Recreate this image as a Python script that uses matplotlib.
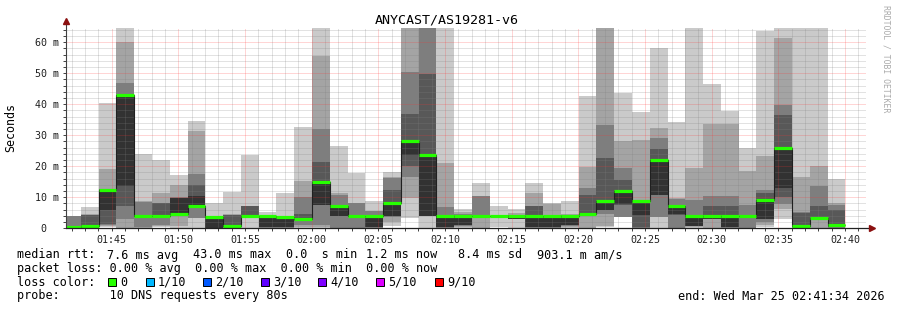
import matplotlib.pyplot as plt
import numpy as np
import pandas as pd
from matplotlib.patches import Rectangle

plt.rcParams['font.family'] = ['DejaVu Sans Mono']

# graph window / sampling
graph_start = "01:41:34"
first_sample = "01:41:21"
step_s = 80

# 10 sorted pings per 80 s slot, in ms (smokeping smoke)
smoke_ms = [
    [0.1, 0.2, 0.3, 0.4, 0.5, 0.6, 0.7, 3.9, 3.95, 4.0],
    [0.2, 0.3, 0.5, 0.6, 0.7, 0.85, 4.2, 4.3, 4.6, 6.9],
    [0.3, 0.8, 1.2, 1.5, 6.0, 12.5, 12.6, 12.7, 19.2, 40.4],
    [0.1, 0.2, 3.0, 7.3, 13.7, 43.0, 43.0, 46.9, 60.2, 70.0],
    [0.1, 0.2, 0.3, 3.8, 4.0, 4.0, 4.1, 8.6, 8.8, 24.0],
    [0.3, 0.7, 1.0, 3.9, 4.0, 4.1, 8.1, 8.2, 11.5, 22.0],
    [0.1, 0.6, 4.5, 4.55, 4.6, 9.8, 9.9, 10.0, 14.0, 17.2],
    [0.1, 3.2, 3.3, 7.0, 7.2, 10.5, 14.0, 17.4, 31.4, 34.5],
    [0.0, 0.0, 0.0, 0.0, 0.05, 3.4, 3.5, 3.55, 3.6, 8.3],
    [0.0, 0.1, 0.2, 0.3, 0.5, 0.8, 4.4, 4.45, 4.5, 11.8],
    [0.1, 3.9, 3.95, 3.97, 3.98, 4.0, 7.2, 7.25, 7.3, 23.8],
    [0.0, 0.1, 0.2, 0.3, 0.4, 3.9, 4.0, 4.1, 4.3, 5.2],
    [0.0, 0.1, 0.2, 0.3, 0.4, 3.5, 3.6, 3.65, 3.7, 11.5],
    [0.0, 0.3, 1.0, 2.5, 2.9, 3.0, 4.7, 10.0, 15.3, 32.6],
    [0.0, 0.5, 1.0, 7.5, 7.6, 14.7, 21.4, 32.0, 55.6, 70.0],
    [0.0, 0.1, 0.2, 4.0, 4.1, 7.2, 7.3, 10.8, 11.5, 26.5],
    [0.0, 0.1, 0.2, 3.8, 3.85, 3.9, 4.0, 8.0, 8.1, 17.9],
    [0.0, 0.1, 0.2, 0.3, 0.5, 4.0, 4.1, 5.5, 5.7, 8.9],
    [0.6, 2.0, 3.6, 4.0, 4.1, 8.2, 12.2, 16.2, 16.5, 18.0],
    [3.2, 9.8, 16.6, 20.1, 23.6, 28.3, 37.0, 50.5, 68.0, 70.0],
    [0.0, 3.9, 3.95, 3.97, 4.0, 23.6, 49.8, 68.0, 69.0, 70.0],
    [0.0, 0.1, 0.2, 0.3, 0.4, 3.9, 4.1, 7.0, 21.0, 70.0],
    [0.0, 0.5, 0.9, 1.0, 1.1, 4.0, 4.2, 4.5, 5.3, 6.3],
    [0.0, 0.1, 3.9, 3.95, 3.97, 4.0, 4.05, 10.3, 10.4, 14.6],
    [0.5, 3.9, 3.92, 3.94, 3.96, 4.0, 4.02, 4.04, 4.06, 7.2],
    [0.0, 2.9, 2.95, 3.0, 3.1, 4.0, 4.2, 4.4, 5.0, 6.1],
    [0.0, 0.1, 0.2, 0.3, 0.4, 4.0, 7.1, 7.2, 11.4, 14.6],
    [0.0, 0.1, 0.2, 0.3, 0.4, 4.0, 4.05, 4.1, 7.7, 8.3],
    [0.0, 0.5, 0.9, 1.0, 1.1, 4.0, 4.2, 4.4, 4.5, 8.8],
    [0.0, 0.1, 4.4, 4.5, 4.6, 5.0, 10.7, 12.9, 19.9, 42.6],
    [0.5, 0.6, 4.5, 5.9, 6.0, 8.8, 22.8, 33.3, 68.0, 70.0],
    [3.6, 3.65, 3.7, 7.6, 7.7, 11.9, 15.5, 19.4, 28.1, 43.6],
    [0.0, 0.1, 0.2, 0.3, 4.4, 8.9, 9.0, 9.1, 28.5, 37.6],
    [0.0, 3.5, 3.6, 10.6, 10.7, 22.0, 25.5, 29.0, 32.5, 58.2],
    [0.0, 0.1, 0.2, 4.4, 4.5, 7.2, 7.3, 9.5, 9.7, 34.4],
    [0.0, 0.5, 0.6, 0.7, 0.8, 4.0, 4.3, 9.0, 19.6, 70.0],
    [0.0, 0.1, 2.9, 3.0, 3.1, 4.0, 7.2, 10.4, 33.6, 46.5],
    [0.0, 0.1, 0.2, 0.3, 0.4, 4.0, 7.2, 10.4, 33.6, 37.9],
    [0.0, 0.1, 0.2, 3.8, 3.9, 4.0, 4.1, 7.5, 18.5, 25.9],
    [0.5, 1.0, 2.0, 2.9, 3.0, 9.0, 11.5, 12.4, 23.3, 63.5],
    [3.0, 6.3, 7.9, 10.0, 12.9, 25.9, 36.5, 39.8, 61.5, 70.0],
    [0.0, 0.1, 0.2, 0.3, 0.4, 0.6, 5.0, 5.1, 16.5, 70.0],
    [0.0, 0.1, 3.2, 3.25, 3.3, 3.35, 7.2, 13.7, 20.1, 70.0],
    [0.0, 0.1, 0.2, 0.3, 0.5, 1.2, 5.9, 7.5, 8.2, 15.9],
]

median_ms = [0.5, 0.85, 12.5, 43.0, 4.0, 4.1, 4.7, 7.3, 3.5, 0.8,
             4.0, 4.0, 3.5, 3.0, 14.8, 7.2, 3.9, 4.0, 8.2, 28.3,
             23.6, 4.0, 4.0, 4.0, 4.0, 4.0, 4.0, 4.0, 4.0, 4.7,
             8.8, 11.9, 8.9, 22.0, 7.2, 4.0, 4.0, 4.0, 4.0, 9.0,
             25.9, 0.6, 3.3, 1.2]

time_labels = ["01:45", "01:50", "01:55", "02:00", "02:05", "02:10",
               "02:15", "02:20", "02:25", "02:30", "02:35", "02:40"]
y_major = [0, 10, 20, 30, 40, 50, 60]
y_top = 64.6

title = "ANYCAST/AS19281-v6"
rtt_parts = ["median rtt:", "7.6 ms avg", "43.0 ms max", "0.0  s min",
             "1.2 ms now", "8.4 ms sd", "903.1 m am/s"]
loss_line = "packet loss: 0.00 % avg  0.00 % max  0.00 % min  0.00 % now"
loss_labels = ["0", "1/10", "2/10", "3/10", "4/10", "5/10", "9/10"]
loss_colors = ["#26ff00", "#00b8ff", "#0059ff", "#5e00ff", "#7e00ff", "#dd00ff", "#ff0000"]
probe_line = "probe:       10 DNS requests every 80s"
end_line = "end: Wed Mar 25 02:41:34 2026"

# ---------------------------------------------------------------
W, H = 897, 310
fig = plt.figure(figsize=(W / 100, H / 100), dpi=100)
fig.patch.set_facecolor('white')


def fx(x):
    return x / W


def fy(y):
    return 1 - y / H


ax = fig.add_axes([fx(66), fy(228.3), 800 / W, 200.3 / H])

t0 = pd.Timestamp("2026-03-25 " + graph_start)


def minutes(t):
    return (pd.Timestamp("2026-03-25 " + t) - t0).total_seconds() / 60


pings = np.array(smoke_ms)
n = len(pings)
step_min = step_s / 60
left = minutes(first_sample) + np.arange(n) * step_min

# smoke: outer pair lightest, inner pair darkest
half = pings.shape[1] // 2
for i in range(1, half + 1):
    c = int(190 / half * (half - i)) + 50
    col = '#%02x%02x%02x' % (c, c, c)
    lo = pings[:, i - 1]
    hi = pings[:, pings.shape[1] - i]
    ax.bar(left, hi - lo, bottom=lo, width=step_min, align='edge',
           color=col, linewidth=0, antialiased=False, zorder=1)

# median: dark step connector + green loss-colored segments
edges = np.append(left, left[-1] + step_min)
ax.stairs(median_ms, edges, baseline=None, color='#202020', lw=0.8, zorder=4)
ax.hlines(median_ms, left, left + step_min, colors=loss_colors[0], lw=2.3, zorder=5)

ax.set_xlim(0, 60)
ax.set_ylim(0, y_top)
ax.set_xticks([minutes(t) for t in time_labels])
ax.set_xticklabels(time_labels)
ax.set_xticks(np.arange(minutes("01:42"), 60, 1), minor=True)
ax.set_yticks(y_major)
ax.set_yticklabels([f"{v} m" if v else "0  " for v in y_major])
ax.set_yticks(np.arange(0, y_top, 2), minor=True)

# grid on top of the smoke, like rrdtool (alpha passed separately)
ax.set_axisbelow(False)
ax.grid(which='major', color='#ff3030', alpha=0.4, lw=0.72, ls=(0, (1, 1)))
ax.grid(which='minor', color='#808080', alpha=0.45, lw=0.72, ls=(0, (1, 1)))
ax.tick_params(which='both', direction='out', length=2, width=0.7, color='#404040',
               labelsize=7.2, labelcolor='#202020')
ax.tick_params(axis='x', pad=2.5)
ax.tick_params(axis='y', pad=3.2)
for s in ax.spines.values():
    s.set_visible(False)

# axis lines with arrows
ax.plot([0, 0], [0, 1.03], transform=ax.transAxes, color='#404040', lw=0.8, clip_on=False, zorder=6)
ax.plot([0, 1.008], [0, 0], transform=ax.transAxes, color='#202020', lw=0.9, clip_on=False, zorder=6)
ax.plot([0], [1.033], transform=ax.transAxes, marker='^', ms=4, color='#8b1010', clip_on=False, zorder=7)
ax.plot([1.008], [0], transform=ax.transAxes, marker='>', ms=4, color='#8b1010', clip_on=False, zorder=7)

# texts
fig.text(fx(447), fy(20), title, ha='center', va='center', fontsize=9.6)
fig.text(fx(11), fy(127), "Seconds", rotation=90, ha='center', va='center', fontsize=8.4)
fig.text(fx(886), fy(59), "RRDTOOL / TOBI OETIKER", rotation=270, ha='center', va='center',
         fontsize=5.9, color='#aaaaaa')

fs = 8.5
rtt_x = [16.7, 107.3, 192.7, 286, 365.7, 458.3, 537.3]
for s, x in zip(rtt_parts, rtt_x):
    fig.text(fx(x), fy(255), s, ha='left', va='center', fontsize=fs)
fig.text(fx(16.7), fy(268.5), loss_line, ha='left', va='center', fontsize=fs)
fig.text(fx(16.7), fy(282), "loss color:", ha='left', va='center', fontsize=fs)
box_x = [108.3, 145.7, 203.3, 261, 318.3, 375.7, 435]
for lab, col, x in zip(loss_labels, loss_colors, box_x):
    fig.add_artist(Rectangle((fx(x), fy(285.5)), 8 / W, 8 / H, transform=fig.transFigure,
                             facecolor=col, edgecolor='black', lw=0.7))
    fig.text(fx(x + 12), fy(282), lab, ha='left', va='center', fontsize=fs)
fig.text(fx(16.7), fy(296), probe_line, ha='left', va='center', fontsize=fs)
fig.text(fx(678.3), fy(296), end_line, ha='left', va='center', fontsize=fs)

fig.savefig('out.png', dpi=100)
